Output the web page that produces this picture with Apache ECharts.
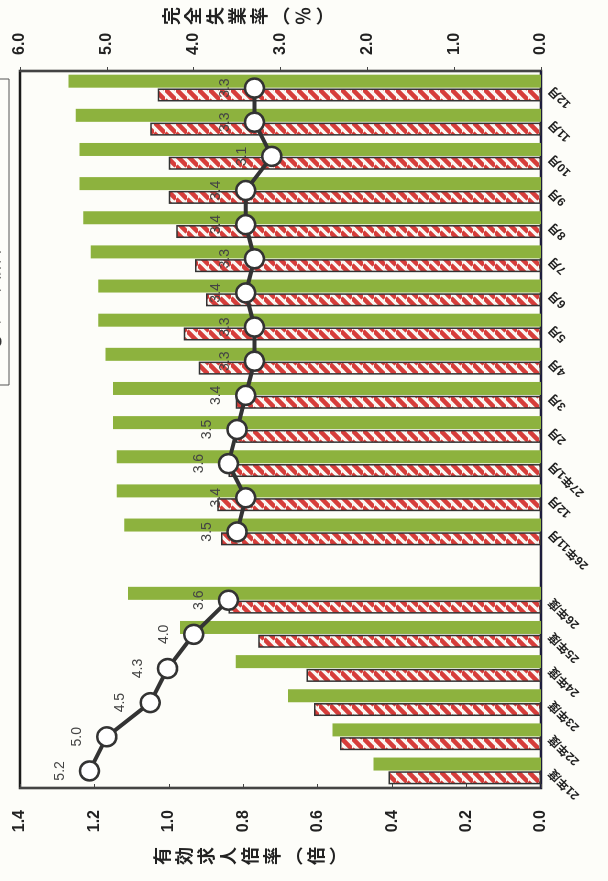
<!DOCTYPE html>
<html><head><meta charset="utf-8">
<script src="https://cdn.jsdelivr.net/npm/echarts@6/dist/echarts.min.js"></script>
<style>
html,body{margin:0;padding:0;background:#fdfdf9;}
#wrap{position:relative;width:608px;height:881px;overflow:hidden;background:#fdfdf9;}
#chart{position:absolute;left:0;top:0;width:881px;height:608px;transform-origin:0 0;transform:translate(0,881px) rotate(-90deg);}
</style></head><body>
<div id="wrap"><div id="chart"></div></div>
<script>
// ---- data ----
const categories = ['21年度','22年度','23年度','24年度','25年度','26年度','','26年11月','12月','27年1月','2月','3月','4月','5月','6月','7月','8月','9月','10月','11月','12月'];
const prefRatio = [0.41,0.54,0.61,0.63,0.76,0.84,null,0.86,0.87,0.84,0.82,0.82,0.92,0.96,0.90,0.93,0.98,1.00,1.00,1.05,1.03];
const nationalRatio = [0.45,0.56,0.68,0.82,0.97,1.11,null,1.12,1.14,1.14,1.15,1.15,1.17,1.19,1.19,1.21,1.23,1.24,1.24,1.25,1.27];
const unemploymentRate = [5.2,5.0,4.5,4.3,4.0,3.6,null,3.5,3.4,3.6,3.5,3.4,3.3,3.3,3.4,3.3,3.4,3.4,3.1,3.3,3.3];
const seriesNames = ['有効求人倍率（県）','有効求人倍率（全国）','完全失業率'];
const leftTitle = '有効求人倍率︵倍︶';
const rightTitle = '完全失業率︵％︶';

function makeHatch(){
  const s = 11, c = document.createElement('canvas'); c.width = s; c.height = s;
  const g = c.getContext('2d');
  g.fillStyle = '#fbf7f3'; g.fillRect(0,0,s,s);
  g.strokeStyle = '#d63d3a'; g.lineWidth = 4.5;
  g.beginPath();
  for (const k of [-s,0,s]) { g.moveTo(k, s); g.lineTo(k+s, 0); }
  g.stroke();
  return c;
}
const FONT = 'Liberation Sans, "Noto Sans CJK JP", sans-serif';
const chart = echarts.init(document.getElementById('chart'), null, {renderer:'canvas'});
const vert = s => s.split('').join('\n');
chart.setOption({
  animation:false,
  backgroundColor:'#fdfdf9',
  textStyle:{fontFamily:FONT},
  legend:{orient:'vertical', left:496, top:-71, data:seriesNames, itemWidth:25, itemHeight:14, itemGap:8,
    padding:[10,85,6,30], borderColor:'#555', borderWidth:1, textStyle:{fontSize:16, color:'#222', fontFamily:FONT}},
  grid:{left:93, right:71, top:20, bottom:67, show:true, borderColor:'#1a1a1a', borderWidth:2.5},
  xAxis:{type:'category', data:categories,
    axisLine:{lineStyle:{color:'#1c1c3c', width:2}}, axisTick:{show:false},
    axisLabel:{rotate:45, interval:0, fontSize:12, fontWeight:'bold', color:'#222', margin:10, fontFamily:FONT}},
  yAxis:[
    {type:'value', min:0, max:1.4, interval:0.2, position:'left',
      axisLine:{show:true, lineStyle:{color:'#444', width:2}},
      axisTick:{show:true, inside:true, length:4, lineStyle:{color:'#444'}},
      axisLabel:{formatter:v=>v.toFixed(1), fontSize:16, fontWeight:'bold', color:'#222', margin:22, fontFamily:FONT},
      splitLine:{show:false}},
    {type:'value', min:0, max:6, interval:1, position:'right',
      axisLine:{show:true, lineStyle:{color:'#444', width:2}},
      axisTick:{show:true, inside:false, length:4, lineStyle:{color:'#444'}},
      axisLabel:{formatter:v=>v.toFixed(1), fontSize:16, fontWeight:'bold', color:'#222', margin:16, fontFamily:FONT},
      splitLine:{show:false}}
  ],
  graphic:[
    {type:'text', x:25, y:250, style:{text:vert(leftTitle), font:'bold 18px "Noto Sans CJK JP", sans-serif', lineHeight:22, fill:'#222', align:'center', verticalAlign:'middle'}},
    {type:'text', x:865, y:248, style:{text:vert(rightTitle), font:'bold 18px "Noto Sans CJK JP", sans-serif', lineHeight:22, fill:'#222', align:'center', verticalAlign:'middle'}}
  ],
  series:[
    {name:seriesNames[0], type:'bar', yAxisIndex:0, data:prefRatio, barWidth:13, barGap:'6%',
      itemStyle:{color:{image:makeHatch(), repeat:'repeat'}, borderColor:'#333', borderWidth:1.5}},
    {name:seriesNames[1], type:'bar', yAxisIndex:0, data:nationalRatio, barWidth:13,
      itemStyle:{color:'#8db23e'}},
    {name:seriesNames[2], type:'line', yAxisIndex:1, data:unemploymentRate, connectNulls:false,
      symbol:'circle', symbolSize:19, z:5,
      lineStyle:{color:'#333', width:4}, itemStyle:{color:'#fff', borderColor:'#333', borderWidth:2.5},
      label:{show:true, position:'top', distance:12, fontSize:14, color:'#444', fontFamily:FONT,
        formatter:p=>p.value==null?'':Number(p.value).toFixed(1)}}
  ]
});
</script>
</body></html>
